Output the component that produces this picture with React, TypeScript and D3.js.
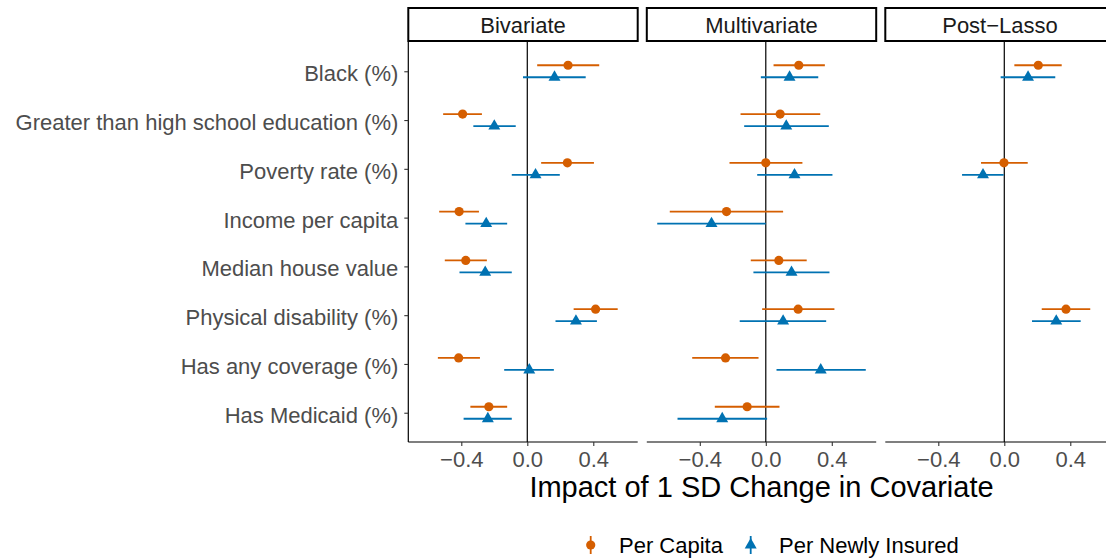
import React, { useEffect, useRef } from "react";
import * as d3 from "d3";

const categories = [
  "Black (%)",
  "Greater than high school education (%)",
  "Poverty rate (%)",
  "Income per capita",
  "Median house value",
  "Physical disability (%)",
  "Has any coverage (%)",
  "Has Medicaid (%)",
];
const panels = ["Bivariate", "Multivariate", "Post\u2212Lasso"];
const seriesNames = ["Per Capita", "Per Newly Insured"];
const xTicks = [-0.4, 0, 0.4];

// [estimate, low, high] per category; null = not selected
const bivariateCapita = [
  [0.247, 0.06, 0.436], [-0.392, -0.51, -0.275], [0.243, 0.084, 0.404], [-0.413, -0.534, -0.293],
  [-0.373, -0.5, -0.245], [0.414, 0.281, 0.548], [-0.416, -0.542, -0.287], [-0.233, -0.345, -0.122],
];
const bivariateInsured = [
  [0.165, -0.026, 0.354], [-0.2, -0.327, -0.07], [0.05, -0.094, 0.197], [-0.249, -0.375, -0.122],
  [-0.255, -0.411, -0.094], [0.295, 0.171, 0.422], [0.012, -0.14, 0.161], [-0.239, -0.386, -0.094],
];
const multivariateCapita = [
  [0.2, 0.047, 0.358], [0.087, -0.153, 0.33], [0.0, -0.22, 0.222], [-0.238, -0.582, 0.105],
  [0.079, -0.091, 0.248], [0.196, -0.022, 0.416], [-0.244, -0.446, -0.044], [-0.113, -0.309, 0.083],
];
const multivariateInsured = [
  [0.144, -0.03, 0.318], [0.124, -0.131, 0.382], [0.174, -0.052, 0.404], [-0.329, -0.658, 0.0],
  [0.156, -0.075, 0.386], [0.105, -0.158, 0.366], [0.333, 0.065, 0.606], [-0.264, -0.535, 0.008],
];
const lassoCapita = [
  [0.206, 0.061, 0.348], null, [-0.002, -0.141, 0.142], null,
  null, [0.374, 0.227, 0.521], null, null,
];
const lassoInsured = [
  [0.144, -0.022, 0.309], null, [-0.129, -0.256, -0.004], null,
  null, [0.315, 0.168, 0.463], null, null,
];

const panelData = [
  [bivariateCapita, bivariateInsured],
  [multivariateCapita, multivariateInsured],
  [lassoCapita, lassoInsured],
];

const colors = ["#D55E00", "#0072B2"];
const FONT = "'Liberation Sans', Arial, Helvetica, sans-serif";
const FS = 22;

export default function App() {
  const ref = useRef<SVGSVGElement>(null);

  useEffect(() => {
    const svg = d3.select(ref.current);
    svg.selectAll("*").remove();

    const top = 42, bottom = 442;
    const panelW = 229.4, gap = 9.1, left0 = 408.3;
    const stripTop = 8;

    const all: number[] = [];
    panelData.forEach((p) => p.forEach((s) => s.forEach((d) => { if (d) all.push(d[1], d[2]); })));
    const [mn, mx] = d3.extent(all) as [number, number];
    const pad = (mx - mn) * 0.05;

    const y = d3.scalePoint<string>().domain(categories).range([top, bottom]).padding(0.6);
    const dodge = 6;

    panels.forEach((name, pi) => {
      const px = left0 + pi * (panelW + gap);
      const x = d3.scaleLinear().domain([mn - pad, mx + pad]).range([px, px + panelW]);
      const g = svg.append("g");

      // strip
      g.append("rect")
        .attr("x", px).attr("y", stripTop)
        .attr("width", panelW).attr("height", top - stripTop - 1)
        .attr("fill", "white").attr("stroke", "black").attr("stroke-width", 2);
      g.append("text")
        .attr("x", px + panelW / 2).attr("y", 32.5)
        .attr("text-anchor", "middle")
        .attr("font-family", FONT).attr("font-size", FS).attr("fill", "#1a1a1a")
        .text(name);

      // zero line
      g.append("line")
        .attr("x1", x(0)).attr("x2", x(0)).attr("y1", top).attr("y2", bottom)
        .attr("stroke", "black").attr("stroke-width", 1.2);

      // x axis
      const ax = g.append("g").attr("transform", `translate(0,${bottom})`)
        .call(d3.axisBottom(x).tickValues(xTicks).tickSize(4)
          .tickFormat((d) => d3.format(".1f")(d as number).replace("-", "\u2212")));
      ax.select(".domain").attr("stroke", "black").attr("stroke-width", 1.2).attr("d", `M${px},0H${px + panelW}`);
      ax.selectAll(".tick line").attr("stroke", "#333").attr("stroke-width", 1.1);
      ax.selectAll(".tick text")
        .attr("font-family", FONT).attr("font-size", FS).attr("fill", "#4d4d4d")
        .attr("y", 24.5).attr("dy", 0);

      if (pi === 0) {
        const ay = g.append("g").attr("transform", `translate(${px},0)`)
          .call(d3.axisLeft(y).tickSize(4).tickPadding(6));
        ay.select(".domain").attr("stroke", "black").attr("stroke-width", 1.2).attr("d", `M0,${top}V${bottom}`);
        ay.selectAll(".tick line").attr("stroke", "#333").attr("stroke-width", 1.1);
        ay.selectAll(".tick text")
          .attr("font-family", FONT).attr("font-size", FS).attr("fill", "#4d4d4d")
          .attr("dy", 9.4);
      }

      panelData[pi].forEach((series, si) => {
        const off = si === 0 ? -dodge : dodge;
        series.forEach((d, ci) => {
          if (!d) return;
          const cy = (y(categories[ci]) as number) + off;
          g.append("line")
            .attr("x1", x(d[1])).attr("x2", x(d[2])).attr("y1", cy).attr("y2", cy)
            .attr("stroke", colors[si]).attr("stroke-width", 1.8);
          if (si === 0) {
            g.append("circle").attr("cx", x(d[0])).attr("cy", cy).attr("r", 4.6).attr("fill", colors[si]);
          } else {
            g.append("path")
              .attr("transform", `translate(${x(d[0])},${cy})`)
              .attr("d", d3.symbol().type(d3.symbolTriangle).size(62)())
              .attr("fill", colors[si]);
          }
        });
      });
    });

    // x title
    const xMid = left0 + (3 * panelW + 2 * gap) / 2;
    svg.append("text")
      .attr("x", xMid).attr("y", 497)
      .attr("text-anchor", "middle")
      .attr("font-family", FONT).attr("font-size", 29).attr("fill", "black")
      .text("Impact of 1 SD Change in Covariate");

    // legend
    const ly = 545;
    const lg = svg.append("g");
    const items = [
      { x: 590.7, tx: 619 },
      { x: 750.7, tx: 779 },
    ];
    seriesNames.forEach((n, i) => {
      const it = items[i];
      lg.append("line")
        .attr("x1", it.x).attr("x2", it.x).attr("y1", ly - 9).attr("y2", ly + 9)
        .attr("stroke", colors[i]).attr("stroke-width", 1.8);
      if (i === 0) {
        lg.append("circle").attr("cx", it.x).attr("cy", ly).attr("r", 4.6).attr("fill", colors[i]);
      } else {
        lg.append("path")
          .attr("transform", `translate(${it.x},${ly})`)
          .attr("d", d3.symbol().type(d3.symbolTriangle).size(62)())
          .attr("fill", colors[i]);
      }
      lg.append("text")
        .attr("x", it.tx).attr("y", 553)
        .attr("font-family", FONT).attr("font-size", FS).attr("fill", "black")
        .text(n);
    });
  }, []);

  return (
    <svg
      ref={ref}
      width={1106}
      height={560}
      style={{ position: "absolute", left: 0, top: 0, background: "white" }}
    />
  );
}
